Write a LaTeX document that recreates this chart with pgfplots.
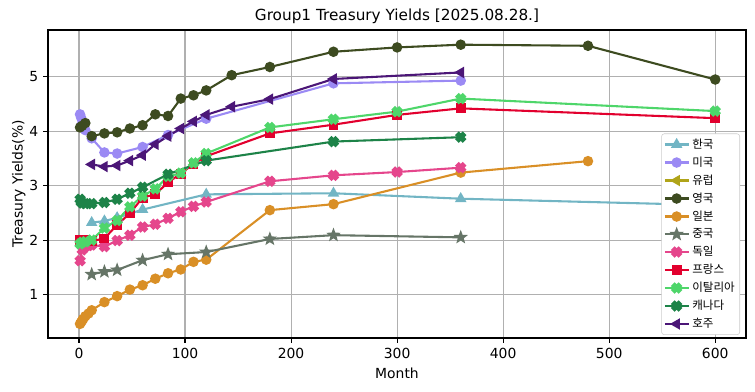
\documentclass[border=0pt]{standalone}
\usepackage{fontspec}
\setmainfont{DejaVu Sans}
\newfontfamily\cjk{Noto Sans CJK KR}
\usepackage{pgfplots}
\pgfplotsset{compat=1.18}
\usetikzlibrary{calc}
\definecolor{cKR}{HTML}{72B5C4}
\definecolor{cUS}{HTML}{9B8AF4}
\definecolor{cEU}{HTML}{B0A419}
\definecolor{cUK}{HTML}{3D4B20}
\definecolor{cJP}{HTML}{D98F26}
\definecolor{cCN}{HTML}{667567}
\definecolor{cDE}{HTML}{E5468C}
\definecolor{cFR}{HTML}{E2002E}
\definecolor{cIT}{HTML}{4ED66A}
\definecolor{cCA}{HTML}{1D8348}
\definecolor{cAU}{HTML}{4B1677}
\definecolor{gridc}{HTML}{B0B0B0}
\pgfdeclareplotmark{fX}{%
  \pgftransformrotate{45}%
  \pgfpathmoveto{\pgfpoint{-\pgfplotmarksize}{-0.36\pgfplotmarksize}}%
  \pgfpathlineto{\pgfpoint{-0.36\pgfplotmarksize}{-0.36\pgfplotmarksize}}%
  \pgfpathlineto{\pgfpoint{-0.36\pgfplotmarksize}{-\pgfplotmarksize}}%
  \pgfpathlineto{\pgfpoint{0.36\pgfplotmarksize}{-\pgfplotmarksize}}%
  \pgfpathlineto{\pgfpoint{0.36\pgfplotmarksize}{-0.36\pgfplotmarksize}}%
  \pgfpathlineto{\pgfpoint{\pgfplotmarksize}{-0.36\pgfplotmarksize}}%
  \pgfpathlineto{\pgfpoint{\pgfplotmarksize}{0.36\pgfplotmarksize}}%
  \pgfpathlineto{\pgfpoint{0.36\pgfplotmarksize}{0.36\pgfplotmarksize}}%
  \pgfpathlineto{\pgfpoint{0.36\pgfplotmarksize}{\pgfplotmarksize}}%
  \pgfpathlineto{\pgfpoint{-0.36\pgfplotmarksize}{\pgfplotmarksize}}%
  \pgfpathlineto{\pgfpoint{-0.36\pgfplotmarksize}{0.36\pgfplotmarksize}}%
  \pgfpathlineto{\pgfpoint{-\pgfplotmarksize}{0.36\pgfplotmarksize}}%
  \pgfpathclose
  \pgfusepathqfillstroke}
\pgfdeclareplotmark{fstar}{%
  \pgfpathmoveto{\pgfpointpolar{90}{\pgfplotmarksize}}%
  \pgfpathlineto{\pgfpointpolar{126}{0.42\pgfplotmarksize}}%
  \pgfpathlineto{\pgfpointpolar{162}{\pgfplotmarksize}}%
  \pgfpathlineto{\pgfpointpolar{198}{0.42\pgfplotmarksize}}%
  \pgfpathlineto{\pgfpointpolar{234}{\pgfplotmarksize}}%
  \pgfpathlineto{\pgfpointpolar{270}{0.42\pgfplotmarksize}}%
  \pgfpathlineto{\pgfpointpolar{306}{\pgfplotmarksize}}%
  \pgfpathlineto{\pgfpointpolar{342}{0.42\pgfplotmarksize}}%
  \pgfpathlineto{\pgfpointpolar{18}{\pgfplotmarksize}}%
  \pgfpathlineto{\pgfpointpolar{54}{0.42\pgfplotmarksize}}%
  \pgfpathclose
  \pgfusepathqfillstroke}
\begin{document}
\begin{tikzpicture}
\begin{axis}[name=ax,
  width=502.6pt, height=221.8pt, scale only axis,
  xmin=-29.2, xmax=629, ymin=0.2, ymax=5.86,
  xtick={0,100,...,600}, ytick={1,2,3,4,5},
  xtick pos=lower, ytick pos=left, tick align=outside,
  major tick length=3.5pt,
  every tick/.style={black, line width=0.8pt},
  grid=major, grid style={gridc, line width=0.8pt},
  axis line style={line width=0.8pt},
  tick label style={font=\fontsize{10}{12}\selectfont},
  /pgf/number format/assume math mode=true,
  label style={font=\fontsize{10}{12}\selectfont},
  ylabel style={yshift=-4pt},
  title style={font=\fontsize{11}{13}\selectfont, yshift=-5pt},
  xlabel={Month}, ylabel={Treasury Yields(\%)},
  title={Group1 Treasury Yields [2025.08.28.]},
  every axis plot/.append style={line width=1.5pt},
  legend style={at={(1,0)}, anchor=south east, xshift=-4.3pt, yshift=2.2pt,
    font=\cjk\fontsize{8.3}{10}\selectfont, draw=gray!40, rounded corners=2pt,
    row sep=0.6pt, inner sep=1.6pt},
  legend cell align=left,
]
\addplot[color=cKR, mark=triangle*, mark size=3.3pt, mark options={solid}] coordinates {
(12,2.32)(24,2.35)(36,2.41)(60,2.56)(120,2.84)(240,2.86)(360,2.76)(600,2.64)};
\addlegendentry{한국}
\addplot[color=cUS, mark=*, mark size=3pt] coordinates {
(1,4.31)(2,4.25)(3,4.14)(4,4.08)(6,4.02)(12,3.87)(24,3.61)(36,3.59)(60,3.71)(84,3.93)(120,4.23)(240,4.88)(360,4.93)};
\addlegendentry{미국}
\addlegendimage{color=cEU, line width=1.5pt, mark=triangle*, mark size=3.3pt, mark options={rotate=90}}
\addlegendentry{유럽}
\addplot[color=cUK, mark=*, mark size=3pt] coordinates {
(1,4.07)(3,4.10)(6,4.15)(12,3.91)(24,3.96)(36,3.98)(48,4.05)(60,4.11)(72,4.31)(84,4.28)(96,4.60)(108,4.66)(120,4.75)(144,5.03)(180,5.18)(240,5.46)(300,5.54)(360,5.59)(480,5.57)(600,4.95)};
\addlegendentry{영국}
\addplot[color=cJP, mark=*, mark size=3pt] coordinates {
(1,0.46)(2,0.49)(3,0.52)(4,0.55)(6,0.60)(9,0.65)(12,0.71)(24,0.86)(36,0.97)(48,1.09)(60,1.17)(72,1.29)(84,1.39)(96,1.46)(108,1.60)(120,1.64)(180,2.55)(240,2.66)(360,3.24)(480,3.45)};
\addlegendentry{일본}
\addplot[color=cCN, mark=fstar, mark size=3.3pt] coordinates {
(12,1.37)(24,1.42)(36,1.45)(60,1.63)(84,1.74)(120,1.78)(180,2.02)(240,2.09)(360,2.05)};
\addlegendentry{중국}
\addplot[color=cDE, mark=fX, mark size=3.2pt] coordinates {
(1,1.62)(3,1.82)(6,1.88)(9,1.90)(12,1.91)(24,1.88)(36,1.99)(48,2.09)(60,2.24)(72,2.29)(84,2.40)(96,2.52)(108,2.62)(120,2.70)(180,3.08)(240,3.19)(300,3.25)(360,3.33)};
\addlegendentry{독일}
\addplot[color=cFR, mark=square*, mark size=2.8pt] coordinates {
(1,2.00)(3,2.01)(6,2.00)(9,1.98)(12,1.98)(24,2.03)(36,2.28)(48,2.49)(60,2.78)(72,2.84)(84,3.06)(96,3.22)(108,3.40)(120,3.54)(180,3.96)(240,4.12)(300,4.30)(360,4.42)(600,4.24)};
\addlegendentry{프랑스}
\addplot[color=cIT, mark=fX, mark size=3.2pt] coordinates {
(1,1.93)(3,1.96)(6,1.97)(12,2.00)(24,2.22)(36,2.36)(48,2.61)(60,2.81)(72,2.94)(84,3.17)(96,3.23)(108,3.42)(120,3.59)(180,4.07)(240,4.22)(300,4.36)(360,4.60)(600,4.37)};
\addlegendentry{이탈리아}
\addplot[color=cCA, mark=fX, mark size=3.2pt] coordinates {
(1,2.75)(2,2.70)(3,2.68)(6,2.67)(12,2.67)(24,2.69)(36,2.75)(48,2.86)(60,2.97)(84,3.21)(120,3.46)(240,3.81)(360,3.89)};
\addlegendentry{캐나다}
\addplot[color=cAU, mark=triangle*, mark size=3.3pt, mark options={rotate=90}] coordinates {
(12,3.39)(24,3.35)(36,3.37)(48,3.46)(60,3.56)(72,3.76)(84,3.91)(96,4.05)(108,4.18)(120,4.30)(144,4.45)(180,4.59)(240,4.96)(360,5.08)};
\addlegendentry{호주}
\end{axis}
\pgfresetboundingbox
\path[use as bounding box] ($(ax.south west)+(-34.56pt,-38.16pt)$) rectangle ($(ax.north east)+(6.48pt,21.6pt)$);
\end{tikzpicture}
\end{document}
